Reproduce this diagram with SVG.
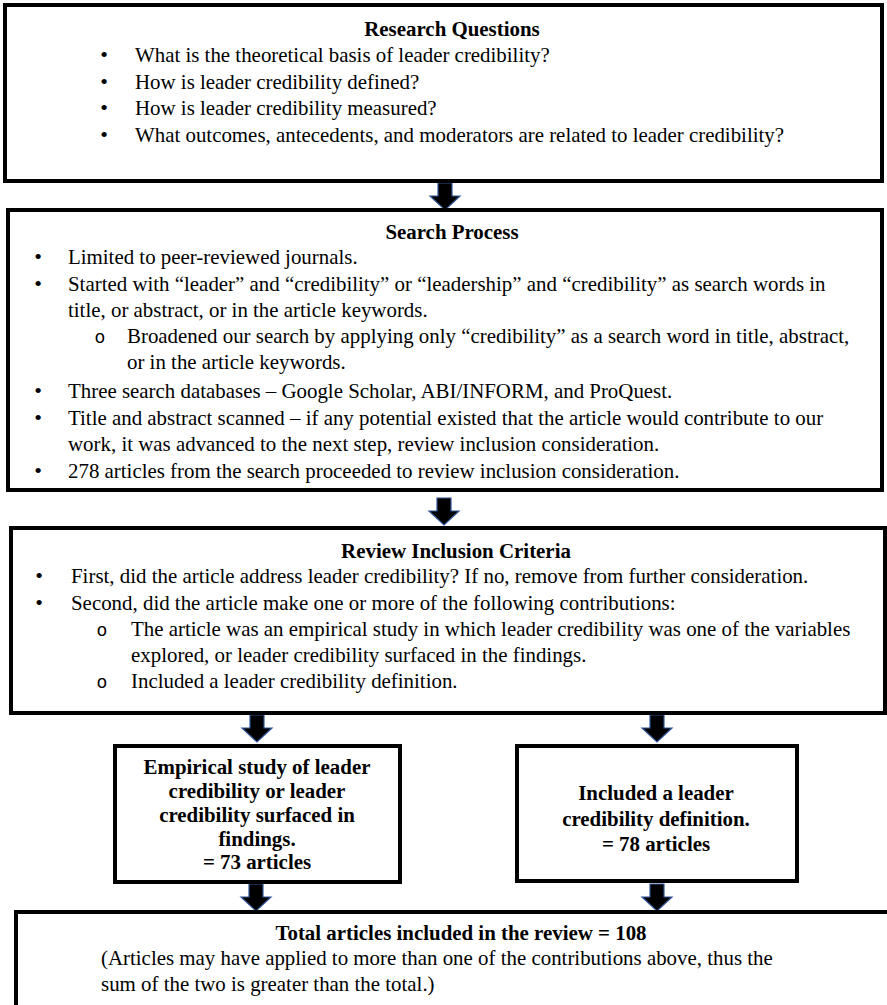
<svg xmlns="http://www.w3.org/2000/svg" width="887" height="1005" viewBox="0 0 887 1005">
<style>
.box{fill:#fff;stroke:#000;stroke-width:4}
.sbox{fill:#fff;stroke:#000;stroke-width:4}
text{font-family:"Liberation Serif","Times New Roman",serif;font-size:20.9px;fill:#000}
.b{font-weight:bold}
.c{text-anchor:middle}
.bul{text-anchor:middle;font-size:22px}
.sub{font-family:"Liberation Mono","Courier New",monospace;text-anchor:middle;font-size:18px}
.arrow{fill:#000;stroke:#2f5597;stroke-width:1.2}
</style>
<defs>
<path id="arr" d="M-7,0 H7 V13 H15 L0,27 L-15,13 H-7 Z"/>
</defs>
<rect width="887" height="1005" fill="#fff"/>
<g id="connectors">
<use href="#arr" class="arrow" x="445" y="183"/>
<use href="#arr" class="arrow" x="444" y="498"/>
<use href="#arr" class="arrow" x="257" y="715"/>
<use href="#arr" class="arrow" x="657" y="715"/>
<use href="#arr" class="arrow" x="256" y="884"/>
<use href="#arr" class="arrow" x="657" y="884"/>
</g>
<g id="research-questions">
<rect class="box" x="5" y="5" width="877" height="176"/>
<text class="b c" x="452" y="36">Research Questions</text>
<text class="bul" x="104" y="62">•</text><text x="135" y="62">What is the theoretical basis of leader credibility?</text>
<text class="bul" x="104" y="88.5">•</text><text x="135" y="88.5">How is leader credibility defined?</text>
<text class="bul" x="104" y="115">•</text><text x="135" y="115">How is leader credibility measured?</text>
<text class="bul" x="104" y="141.5">•</text><text x="135" y="141.5">What outcomes, antecedents, and moderators are related to leader credibility?</text>
</g>
<g id="search-process">
<rect class="box" x="8" y="210" width="874" height="280"/>
<text class="b c" x="452" y="239">Search Process</text>
<text class="bul" x="38" y="264">•</text><text x="68" y="264">Limited to peer-reviewed journals.</text>
<text class="bul" x="38" y="290.5">•</text><text x="68" y="290.5">Started with “leader” and “credibility” or “leadership” and “credibility” as search words in</text>
<text x="68" y="317">title, or abstract, or in the article keywords.</text>
<text class="sub" x="100" y="343">o</text><text x="127" y="343">Broadened our search by applying only “credibility” as a search word in title, abstract,</text>
<text x="127" y="369">or in the article keywords.</text>
<text class="bul" x="38" y="398">•</text><text x="68" y="398">Three search databases – Google Scholar, ABI/INFORM, and ProQuest.</text>
<text class="bul" x="38" y="425">•</text><text x="68" y="425">Title and abstract scanned – if any potential existed that the article would contribute to our</text>
<text x="68" y="451">work, it was advanced to the next step, review inclusion consideration.</text>
<text class="bul" x="38" y="478">•</text><text x="68" y="478">278 articles from the search proceeded to review inclusion consideration.</text>
</g>
<g id="review-inclusion-criteria">
<rect class="box" x="11" y="528" width="874" height="185"/>
<text class="b c" x="456" y="558">Review Inclusion Criteria</text>
<text class="bul" x="39" y="583">•</text><text x="71" y="583">First, did the article address leader credibility? If no, remove from further consideration.</text>
<text class="bul" x="39" y="609.5">•</text><text x="71" y="609.5">Second, did the article make one or more of the following contributions:</text>
<text class="sub" x="102" y="636">o</text><text x="131" y="636">The article was an empirical study in which leader credibility was one of the variables</text>
<text x="131" y="661.5">explored, or leader credibility surfaced in the findings.</text>
<text class="sub" x="102" y="688">o</text><text x="131" y="688">Included a leader credibility definition.</text>
</g>
<g id="empirical-study">
<rect class="sbox" x="115" y="746" width="285" height="136"/>
<text class="b c" x="257" y="774">Empirical study of leader</text>
<text class="b c" x="257" y="798">credibility or leader</text>
<text class="b c" x="257" y="822">credibility surfaced in</text>
<text class="b c" x="257" y="846">findings.</text>
<text class="b c" x="257" y="869">= 73 articles</text>
</g>
<g id="definition">
<rect class="sbox" x="517" y="746" width="280" height="135"/>
<text class="b c" x="656" y="800">Included a leader</text>
<text class="b c" x="656" y="826">credibility definition.</text>
<text class="b c" x="656" y="851">= 78 articles</text>
</g>
<g id="total">
<rect class="box" x="16" y="912" width="900" height="130"/>
<text class="b c" x="461" y="940">Total articles included in the review = 108</text>
<text x="101" y="965">(Articles may have applied to more than one of the contributions above, thus the</text>
<text x="101" y="991">sum of the two is greater than the total.)</text>
</g>
</svg>
